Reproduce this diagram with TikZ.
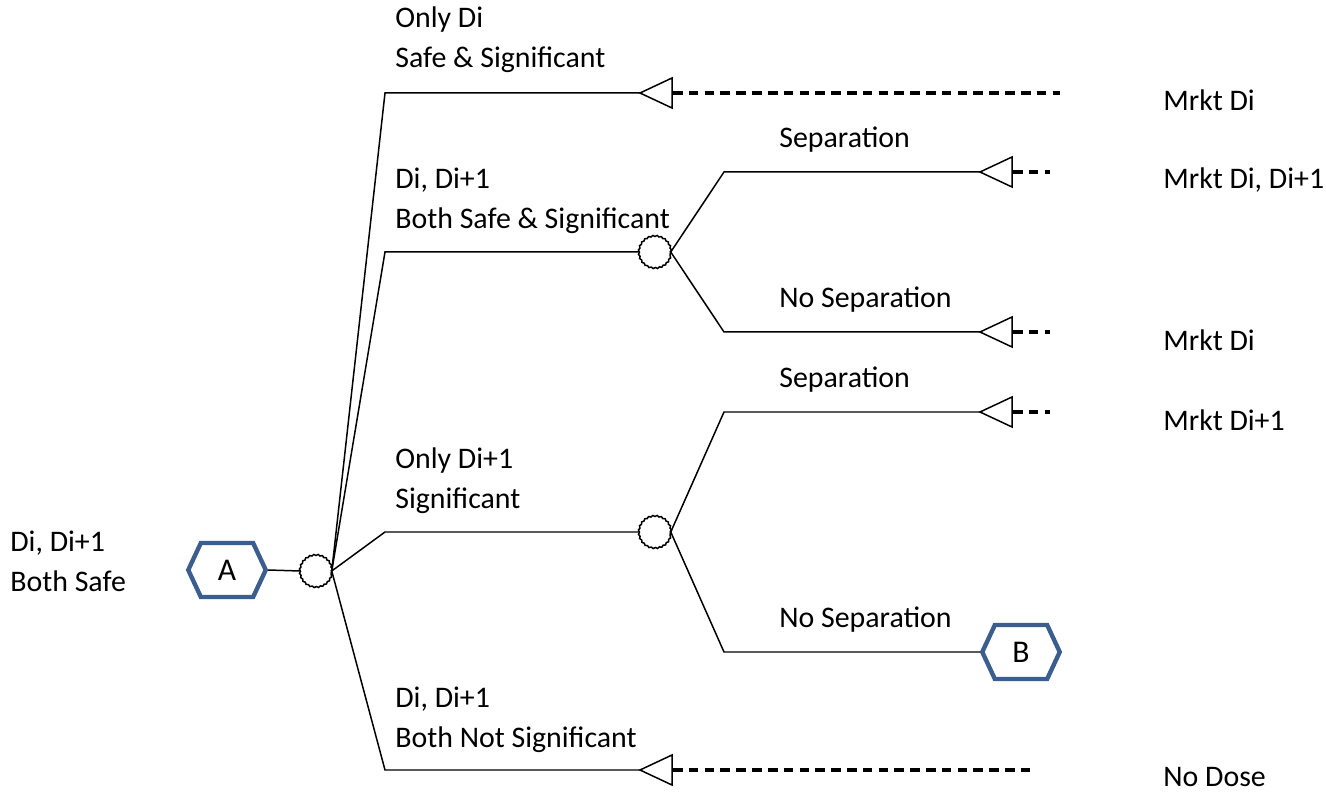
\documentclass[tikz,border=0pt]{standalone}
\usepackage{fontspec}
\setmainfont{Carlito}
\usetikzlibrary{shapes.symbols,decorations.pathmorphing}
\definecolor{hexblue}{RGB}{59,94,143}
\tikzset{
    branch/.style={line width=0.85pt, black},
    feed/.style={line width=1.8pt, dash pattern=on 5.5pt off 3.5pt},
    chance/.style={
        circle, draw, line width=0.85pt, inner sep=0pt, minimum size=0.6cm,
        decorate, decoration={bumps, segment length=4.5pt, amplitude=0.9pt, mirror}
    },
    linkhex/.style={
        signal, signal to=west and east, signal pointer angle=130,
        draw=hexblue, line width=2.5pt, inner sep=0pt,
        minimum width=1.55cm, minimum height=1.08cm,
        font=\fontsize{18}{20}\selectfont
    },
    lbl/.style={anchor=west, align=left, inner sep=0pt, font=\fontsize{17}{22.8}\selectfont}
}
\begin{document}
\begin{tikzpicture}[x=0.02cm, y=-0.02cm]
    \useasboundingbox (0,0) rectangle (1326,793);
    \node[linkhex] (hexA) at (227,570) {A};
    \node[chance] (c0) at (316,571) {};
    \node[chance] (c1) at (655,252) {};
    \node[chance] (c2) at (655,532) {};
    \node[linkhex] (hexB) at (1021,652) {B};
    \coordinate (k1) at (385,93);
    \coordinate (k2) at (385,252);
    \coordinate (k3) at (385,532);
    \coordinate (k4) at (385,770);
    \coordinate (s1) at (724,172);
    \coordinate (s2) at (724,332);
    \coordinate (s3) at (724,412);
    \coordinate (s4) at (724,652);
    \coordinate (t1) at (640,93);
    \coordinate (t2) at (980,172);
    \coordinate (t3) at (980,332);
    \coordinate (t4) at (980,412);
    \coordinate (t5) at (640,770);
    \coordinate (e1) at (1060,93);
    \coordinate (e2) at (1050,172);
    \coordinate (e3) at (1050,332);
    \coordinate (e4) at (1050,412);
    \coordinate (e5) at (1030,770);
    \draw[branch] (hexA.east) -- (c0.west);
    \draw[branch] (c0.east) -- (k1) -- (t1);
    \draw[branch] (c0.east) -- (k2) -- (c1.west);
    \draw[branch] (c0.east) -- (k3) -- (c2.west);
    \draw[branch] (c0.east) -- (k4) -- (t5);
    \draw[branch] (c1.east) -- (s1) -- (t2);
    \draw[branch] (c1.east) -- (s2) -- (t3);
    \draw[branch] (c2.east) -- (s3) -- (t4);
    \draw[branch] (c2.east) -- (s4) -- (hexB.west);
    \foreach \t/\e in {t1/e1, t2/e2, t3/e3, t4/e4, t5/e5} {
        \draw[branch, line join=miter] (\t) -- ++(32,-15) -- ++(0,30) -- cycle;
        \draw[feed] (\t) ++(33,0) -- (\e);
    }
    \node[lbl] (l1) at (395,40) {Only Di\\Safe \& Significant};
    \node[lbl] (l2) at (395,201) {Di, Di+1\\Both Safe \& Significant};
    \node[lbl] (l3) at (395,481) {Only Di+1\\Significant};
    \node[lbl] (l4) at (395,720) {Di, Di+1\\Both Not Significant};
    \node[lbl] (l0) at (10,561) {Di, Di+1\\Both Safe};
    \node[lbl] (sep1) at (779,140) {Separation};
    \node[lbl] (nsep1) at (779,300) {No Separation};
    \node[lbl] (sep2) at (779,380) {Separation};
    \node[lbl] (nsep2) at (779,620) {No Separation};
    \node[lbl] (m1) at (1163,100) {Mrkt Di};
    \node[lbl] (m2) at (1163,180) {Mrkt Di, Di+1};
    \node[lbl] (m3) at (1163,340) {Mrkt Di};
    \node[lbl] (m4) at (1163,420) {Mrkt Di+1};
    \node[lbl] (m5) at (1163,777) {No Dose};
\end{tikzpicture}
\end{document}
